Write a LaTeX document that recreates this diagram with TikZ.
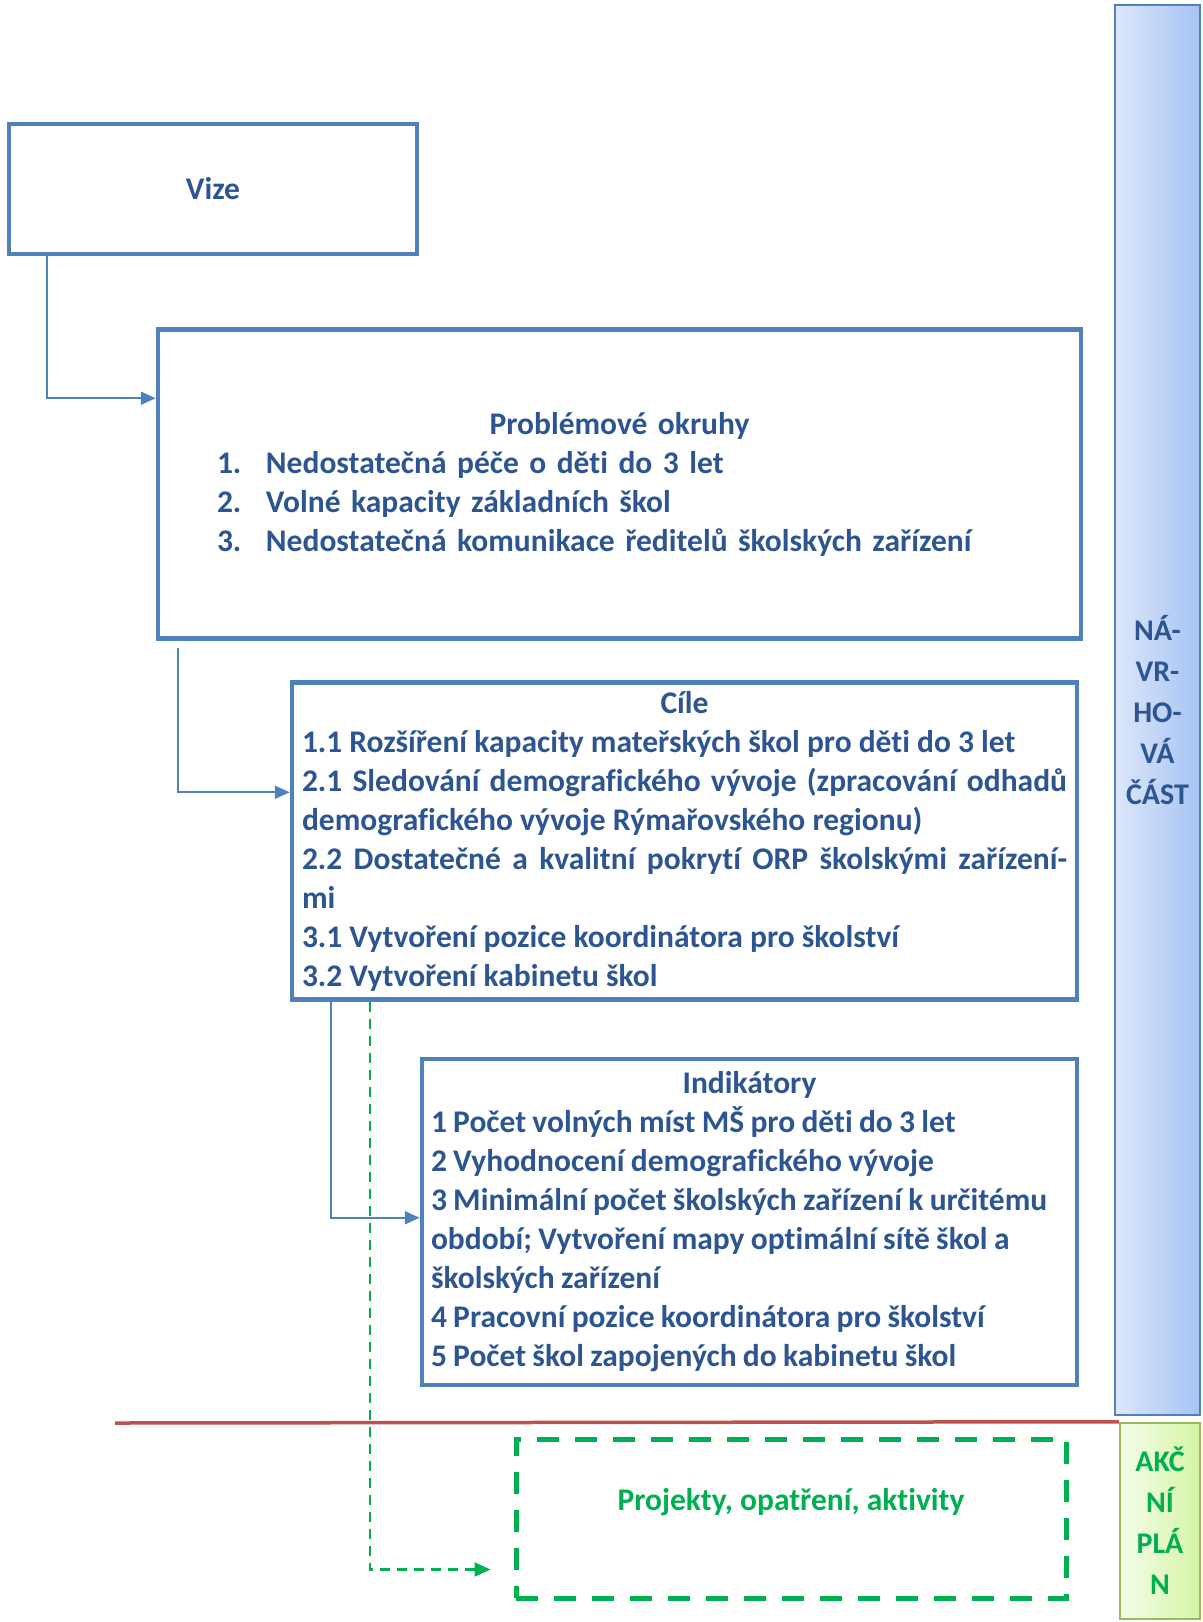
\documentclass[tikz,border=0pt]{standalone}
\usepackage{fontspec}
\setmainfont{Carlito}[Ligatures=CommonOff]
\usetikzlibrary{arrows.meta,calc}
\definecolor{ramecek}{HTML}{4F81BD}
\definecolor{textmodra}{HTML}{2C5591}
\definecolor{zelena}{HTML}{00B050}
\definecolor{cervena}{HTML}{C0504D}
\definecolor{olivova}{HTML}{9BBB59}
\definecolor{pruhL}{HTML}{DDE7FA}
\definecolor{pruhR}{HTML}{A6C3F3}
\definecolor{zpruhL}{HTML}{F3FCE8}
\definecolor{zpruhR}{HTML}{D6F4A6}

\begin{document}
\begin{tikzpicture}[x=1pt,y=-1pt,
	font=\bfseries\fontsize{31.5}{39}\selectfont, text=textmodra,
	box/.style={draw=ramecek, line width=4.5pt, rectangle, inner sep=0pt},
	spoj/.style={draw=ramecek, line width=2pt, -{Triangle[length=15pt,width=13pt]}},
	zspoj/.style={draw=zelena, line width=2.2pt, dash pattern=on 10pt off 7pt, -{Triangle[length=16pt,width=14pt]}}]
	\useasboundingbox (0,0) rectangle (1202,1622);

	% Bars on the right
	\node[draw=ramecek, line width=2.5pt, left color=pruhL, right color=pruhR,
		minimum width=85pt, minimum height=1410pt, inner sep=0pt,
		align=center, font=\bfseries\fontsize{30}{41}\selectfont] (navrh) at (1157.5,710)
		{NÁ-\\VR-\\HO-\\VÁ\\ČÁST};
	\node[draw=olivova, line width=2.5pt, left color=zpruhL, right color=zpruhR,
		minimum width=80pt, minimum height=196pt, inner sep=0pt, text=zelena,
		align=center, font=\bfseries\fontsize{30}{41}\selectfont] (akcni) at (1160,1521)
		{AKČ\\NÍ\\PLÁ\\N};

	% Dividing line
	\coordinate (hranice) at (115,1423);
	\draw[cervena, line width=3.5pt] (hranice) -- (akcni.north west);

	% Boxes
	\node[box, minimum width=408pt, minimum height=130pt] (vize) at (213,189) {Vize};
	\node[box, minimum width=923pt, minimum height=309pt, text width=805pt, align=left] (problemy) at (619.5,484)
		{\centerline{Problémové okruhy}
		\makebox[49pt][l]{1.}Nedostatečná péče o děti do 3 let\\
		\makebox[49pt][l]{2.}Volné kapacity základních škol\\
		\makebox[49pt][l]{3.}Nedostatečná komunikace ředitelů školských zařízení};
	\node[box, minimum width=785pt, minimum height=317pt, text width=765pt, align=justify] (cile) at (684.5,841)
		{\centerline{Cíle}
		1.1 Rozšíření kapacity mateřských škol pro děti do 3 let\par
		2.1 Sledování demografického vývoje (zpracování odhadů\linebreak demografického vývoje Rýmařovského regionu)\par
		2.2 Dostatečné a kvalitní pokrytí ORP školskými zařízení-\linebreak mi\par
		3.1 Vytvoření pozice koordinátora pro školství\par
		3.2 Vytvoření kabinetu škol};
	\node[box, minimum width=655pt, minimum height=326pt, text width=637pt, align=left] (indikatory) at (749.5,1222)
		{\spaceskip=0.2em\centerline{Indikátory}
		1 Počet volných míst MŠ pro děti do 3 let\\
		2 Vyhodnocení demografického vývoje\\
		\mbox{3 Minimální počet školských zařízení k určitému}\\
		období; Vytvoření mapy optimální sítě škol a\\
		školských zařízení\\
		4 Pracovní pozice koordinátora pro školství\\
		5 Počet škol zapojených do kabinetu škol};
	\node[draw=zelena, line width=5pt, dash pattern=on 22pt off 16pt, minimum width=550pt, minimum height=159pt] (projekty) at (791,1518.5) {};
	\node[text=zelena] (projektytext) at (791,1502) {Projekty, opatření, aktivity};

	% Connectors
	\draw[spoj] ([xshift=40pt]vize.south west) |- ([yshift=-71pt]problemy.north west);
	\draw[spoj] ([xshift=22pt,yshift=-7pt]problemy.south west) |- ([yshift=-112pt]cile.north west);
	\draw[spoj] ([xshift=41pt]cile.south west) |- ([yshift=-161pt]indikatory.north west);
	\draw[zspoj] ([xshift=80pt]cile.south west) |- ([xshift=-23pt,yshift=31pt]projekty.south west);
\end{tikzpicture}
\end{document}
